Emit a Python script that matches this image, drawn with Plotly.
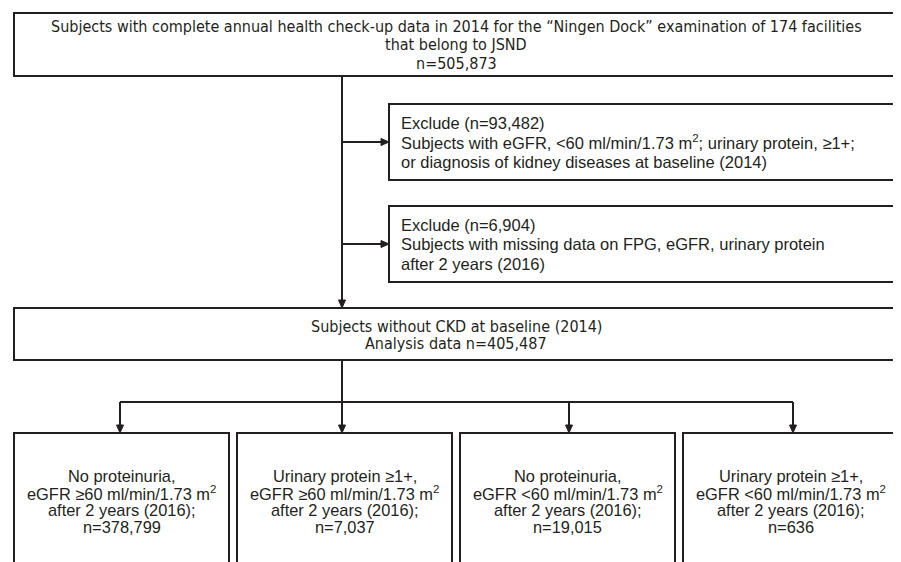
import plotly.graph_objects as go

# ---- data (text content of the flow chart) ----
top_lines = [
    "Subjects with complete annual health check-up data in 2014 for the \u201cNingen Dock\u201d examination of 174 facilities",
    "that belong to JSND",
    "n=505,873",
]
exclude_n = [93482, 6904]
exclude_desc = [
    ["Subjects with eGFR, &lt;60 ml/min/1.73 m<sup>2</sup>; urinary protein, \u22651+;",
     "or diagnosis of kidney diseases at baseline (2014)"],
    ["Subjects with missing data on FPG, eGFR, urinary protein",
     "after 2 years (2016)"],
]
analysis_lines = ["Subjects without CKD at baseline (2014)", "Analysis data n=405,487"]
outcome_protein = ["No proteinuria,", "Urinary protein \u22651+,", "No proteinuria,", "Urinary protein \u22651+,"]
outcome_egfr = ["eGFR \u226560 ml/min/1.73 m<sup>2</sup>", "eGFR \u226560 ml/min/1.73 m<sup>2</sup>",
                "eGFR &lt;60 ml/min/1.73 m<sup>2</sup>", "eGFR &lt;60 ml/min/1.73 m<sup>2</sup>"]
outcome_period = ["after 2 years (2016);"] * 4
outcome_n = [378799, 7037, 19015, 636]

# ---- layout geometry (axis units = page pixels; page body has an 8px margin) ----
W, H = 901, 562
OFF = 8
INK = "#231f20"
LW = 2
NARROW = "Liberation Sans Narrow, Arial Narrow, DejaVu Sans Condensed, sans-serif"
REG = "Liberation Sans, Arial, sans-serif"

shapes = []
annotations = []


def box(x0, y0, x1, y1):
    shapes.append(dict(type="rect", xref="x", yref="y", x0=x0, y0=y0, x1=x1, y1=y1,
                       line=dict(color=INK, width=LW), fillcolor="white", layer="above"))


def line(x0, y0, x1, y1):
    shapes.append(dict(type="line", xref="x", yref="y", x0=x0, y0=y0, x1=x1, y1=y1,
                       line=dict(color=INK, width=LW), layer="above"))


def arrow(x0, y0, x1, y1):
    L, hw = 8, 3.5
    if x0 == x1:  # vertical, downward
        line(x0, y0, x1, y1 - L + 1)
        p = f"M {x1} {y1} L {x1-hw} {y1-L} L {x1+hw} {y1-L} Z"
    else:  # horizontal, rightward
        line(x0, y0, x1 - L + 1, y1)
        p = f"M {x1} {y1} L {x1-L} {y1-hw} L {x1-L} {y1+hw} Z"
    shapes.append(dict(type="path", xref="x", yref="y", path=p,
                       fillcolor=INK, line=dict(color=INK, width=1), layer="above"))


def text(x, y, s, size, family, anchor="center"):
    annotations.append(dict(x=x, y=y, xref="x", yref="y", text=s, showarrow=False,
                            xanchor=anchor, yanchor="middle",
                            font=dict(size=size, family=family, color=INK)))


XL, XR = 14, 898

# top box
box(XL, 13, XR, 76)
for i, s in enumerate([26, 44.5, 63]):
    pass
for y, s in zip([26, 44.5, 63], top_lines):
    text((XL + XR) / 2, y, s, 16, NARROW)

# trunk
trunk_x = 342
line(trunk_x, 76, trunk_x, 300)
arrow(trunk_x, 290, trunk_x, 308)

# exclusion boxes
ex_boxes = [(104, 180), (206, 282)]
for (y0, y1), n, desc in zip(ex_boxes, exclude_n, exclude_desc):
    box(389, y0, XR, y1)
    yc = (y0 + y1) / 2
    lines_ = [f"Exclude (n={n:,})"] + desc
    for i, s in enumerate(lines_):
        text(399, yc - 19.5 + 19.5 * i, s, 16.5, REG, anchor="left")
    arrow(trunk_x, yc, 389, yc)

# analysis box
box(XL, 308, XR, 360)
for y, s in zip([326, 343.5], analysis_lines):
    text((XL + XR) / 2, y, s, 16, NARROW)

# branch
branch_y = 402
arrow_x = [120, 342, 569, 793]
line(trunk_x, 360, trunk_x, branch_y)
line(arrow_x[0], branch_y, arrow_x[-1], branch_y)
for ax in arrow_x:
    arrow(ax, branch_y, ax, 433)

# outcome boxes
ob = [(14, 229), (237, 452), (460, 675), (683, 898)]
for (x0, x1), p, e, t, n in zip(ob, outcome_protein, outcome_egfr, outcome_period, outcome_n):
    box(x0, 433, x1, 600)
    xc = (x0 + x1) / 2
    for i, s in enumerate([p, e, t, f"n={n:,}"]):
        text(xc, 476 + 17 * i, s, 16.4, REG)

fig = go.Figure()
fig.update_layout(
    width=W, height=H, margin=dict(l=0, r=0, t=0, b=0),
    paper_bgcolor="white", plot_bgcolor="white",
    xaxis=dict(range=[OFF, W + OFF], visible=False, fixedrange=True),
    yaxis=dict(range=[H + OFF, OFF], visible=False, fixedrange=True),
    shapes=shapes, annotations=annotations, showlegend=False,
)
fig.write_html("out.html")
